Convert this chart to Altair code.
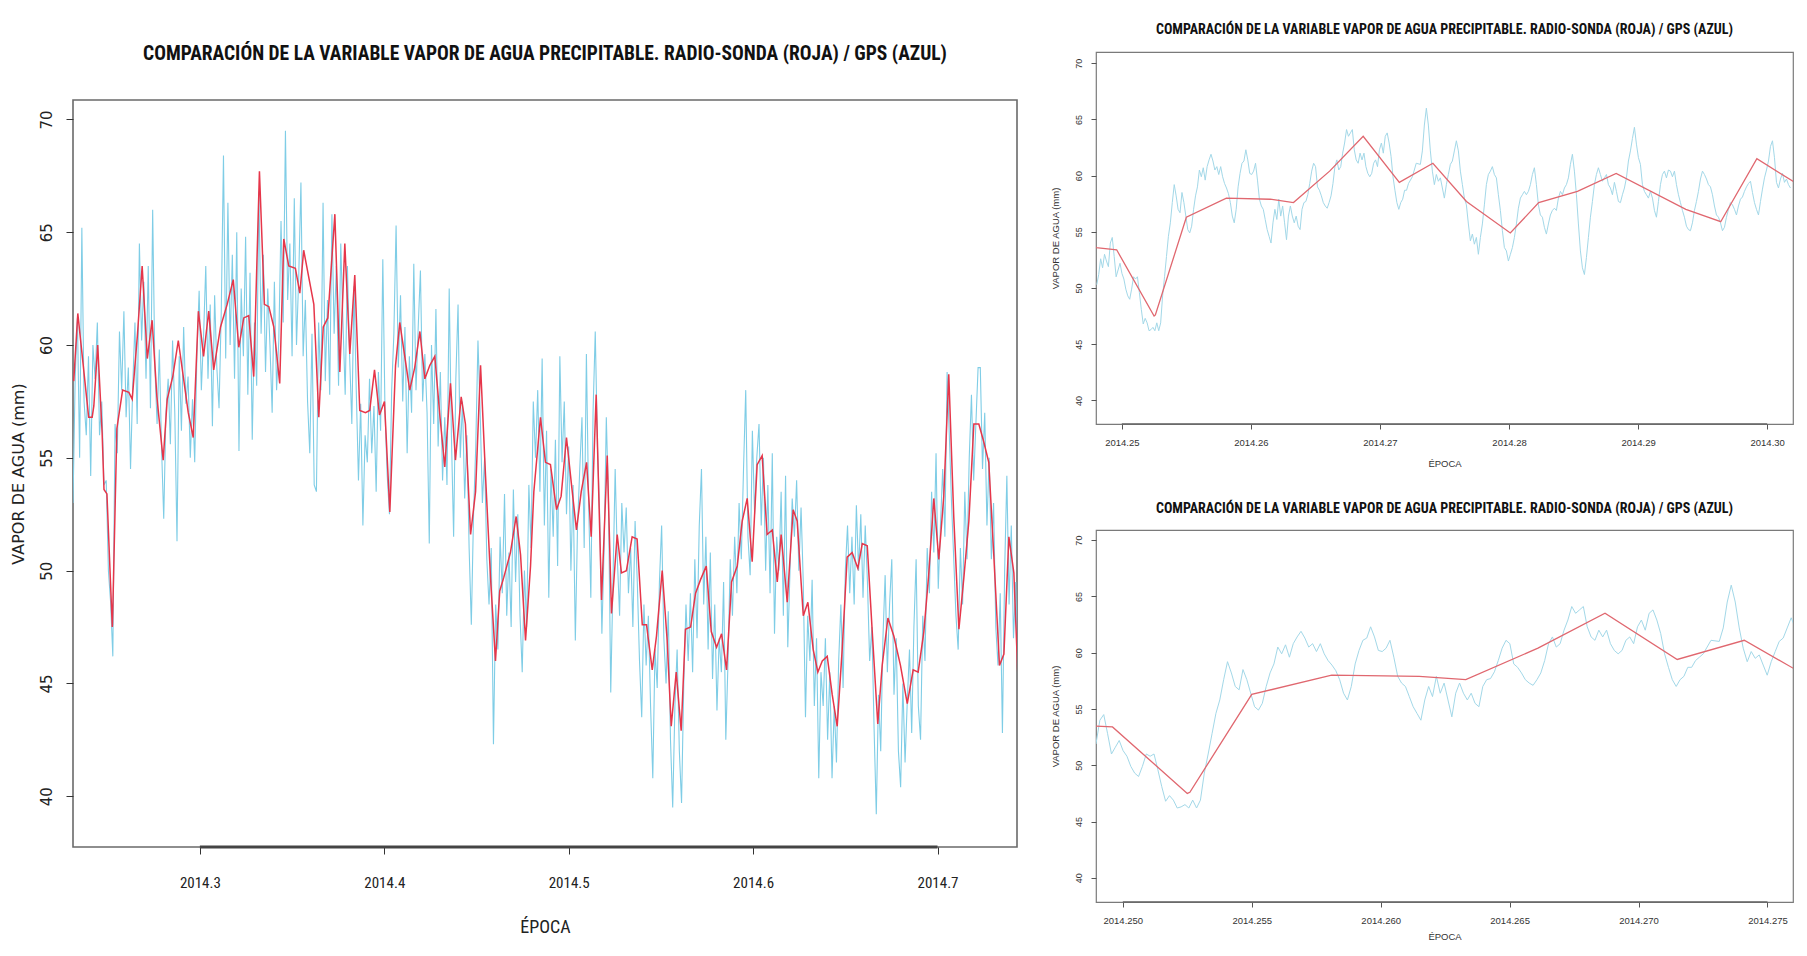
import altair as alt
import pandas as pd

TITLE = "COMPARACIÓN DE LA VARIABLE VAPOR DE AGUA PRECIPITABLE. RADIO-SONDA (ROJA) / GPS (AZUL)"
X_TITLE = "ÉPOCA"
Y_TITLE = "VAPOR DE AGUA (mm)"

# Radio-sonda (red) : epoch (decimal year) and precipitable water vapour (mm)
RS_EPOCH = [
    2014.2316, 2014.2338, 2014.2397, 2014.2416, 2014.2425, 2014.2446, 2014.2470, 2014.2480,
    2014.2496, 2014.2525, 2014.2526, 2014.2550, 2014.2581, 2014.2615, 2014.2633, 2014.2661,
    2014.2687, 2014.2715, 2014.2741, 2014.2767, 2014.2801, 2014.2823, 2014.2853, 2014.2883,
    2014.2937, 2014.2964, 2014.2992, 2014.3020, 2014.3048, 2014.3075, 2014.3112, 2014.3148,
    2014.3181, 2014.3211, 2014.3238, 2014.3265, 2014.3292, 2014.3323, 2014.3350, 2014.3374,
    2014.3401, 2014.3433, 2014.3455, 2014.3482, 2014.3518, 2014.3542, 2014.3563, 2014.3618,
    2014.3645, 2014.3669, 2014.3694, 2014.3732, 2014.3759, 2014.3786, 2014.3813, 2014.3840,
    2014.3867, 2014.3898, 2014.3921, 2014.3947, 2014.3974, 2014.4001, 2014.4030, 2014.4061,
    2014.4084, 2014.4111, 2014.4138, 2014.4165, 2014.4193, 2014.4220, 2014.4247, 2014.4274,
    2014.4301, 2014.4328, 2014.4359, 2014.4386, 2014.4417, 2014.4440, 2014.4468, 2014.4495,
    2014.4522, 2014.4549, 2014.4576, 2014.4603, 2014.4626, 2014.4648, 2014.4684, 2014.4715,
    2014.4739, 2014.4766, 2014.4793, 2014.4811, 2014.4847, 2014.4874, 2014.4901, 2014.4934,
    2014.4959, 2014.4988, 2014.5014, 2014.5042, 2014.5068, 2014.5097, 2014.5122, 2014.5149,
    2014.5178, 2014.5209, 2014.5232, 2014.5263, 2014.5286, 2014.5313, 2014.5344, 2014.5371,
    2014.5399, 2014.5422, 2014.5453, 2014.5476, 2014.5507, 2014.5534, 2014.5556, 2014.5583,
    2014.5610, 2014.5633, 2014.5661, 2014.5688, 2014.5715, 2014.5746, 2014.5773, 2014.5802,
    2014.5829, 2014.5856, 2014.5883, 2014.5914, 2014.5941, 2014.5968, 2014.5995, 2014.6022,
    2014.6049, 2014.6076, 2014.6104, 2014.6131, 2014.6152, 2014.6185, 2014.6217, 2014.6239,
    2014.6272, 2014.6297, 2014.6326, 2014.6351, 2014.6375, 2014.6402, 2014.6429, 2014.6456,
    2014.6483, 2014.6510, 2014.6537, 2014.6568, 2014.6592, 2014.6619, 2014.6646, 2014.6676,
    2014.6700, 2014.6731, 2014.6763, 2014.6799, 2014.6836, 2014.6868, 2014.6895, 2014.6926,
    2014.6953, 2014.6980, 2014.7007, 2014.7034, 2014.7061, 2014.7088, 2014.7116, 2014.7143,
    2014.7170, 2014.7197, 2014.7224, 2014.7251, 2014.7278, 2014.7305, 2014.7336, 2014.7360,
    2014.7387, 2014.7414, 2014.7435,
]
RS_VALUE = [
    58.4, 61.4, 56.8, 56.8, 57.3, 60.0, 56.1, 53.6,
    53.4, 47.5, 47.6, 56.3, 58.0, 57.9, 57.6, 60.4,
    63.5, 59.4, 61.1, 57.7, 54.9, 57.6, 58.6, 60.2,
    57.0, 55.9, 61.5, 59.5, 61.5, 58.9, 60.8, 61.8,
    62.9, 59.9, 61.2, 61.3, 58.6, 67.7, 61.8, 61.7,
    60.8, 58.3, 64.7, 63.5, 63.4, 62.3, 64.2, 61.8,
    56.8, 60.8, 61.2, 65.8, 58.8, 64.5, 59.6, 63.1,
    57.1, 57.0, 57.1, 58.9, 56.9, 57.5, 52.6, 59.1,
    61.0, 59.5, 58.0, 59.0, 60.6, 58.5, 59.1, 59.5,
    56.9, 54.6, 58.3, 54.9, 57.7, 56.5, 51.6, 53.5,
    59.1, 54.2, 49.7, 46.0, 49.1, 49.7, 50.8, 52.4,
    50.7, 46.9, 50.2, 53.5, 56.8, 54.8, 54.7, 52.7,
    53.3, 55.9, 53.9, 51.8, 53.5, 54.8, 51.5, 57.8,
    48.7, 55.1, 48.1, 51.6, 49.9, 50.0, 51.5, 51.4,
    47.6, 47.6, 45.6, 47.1, 50.0, 46.9, 43.1, 45.5,
    42.9, 47.4, 47.5, 49.0, 49.6, 50.2, 47.3, 46.6,
    47.2, 45.6, 49.5, 50.2, 52.2, 53.2, 50.4, 54.7,
    55.1, 51.6, 51.8, 49.5, 51.6, 48.6, 52.7, 52.2,
    48.0, 48.6, 46.5, 45.5, 46.0, 46.2, 44.5, 43.1,
    46.5, 50.6, 50.8, 50.1, 51.2, 51.1, 47.3, 43.2,
    45.8, 47.9, 47.1, 45.8, 44.1, 45.6, 45.5, 47.3,
    49.9, 53.2, 50.5, 53.3, 58.7, 52.4, 47.4, 49.7,
    52.2, 56.5, 56.5, 55.7, 54.8, 50.7, 45.8, 46.3,
    51.5, 49.9, 45.5,
]

# GPS (blue), whole period, regular sampling
GPS_FULL_START = 2014.2312
GPS_FULL_STEP = 0.0012
GPS_FULL = [
    53.0, 58.6, 61.2, 55.0, 65.2, 57.5, 56.0, 59.5, 54.2, 60.0,
    58.5, 61.0, 56.0, 57.5, 53.8, 54.0, 50.0, 48.6, 46.2, 56.5,
    55.2, 60.6, 58.0, 61.5, 56.8, 59.0, 54.5, 58.2, 61.0, 56.5,
    64.5, 60.2, 62.8, 58.5, 63.5, 57.2, 66.0, 59.0, 56.5, 59.8,
    55.5, 52.3, 57.0, 58.5, 55.6, 60.2, 57.0, 51.3, 59.5, 56.2,
    60.8, 57.4, 58.6, 55.0, 57.6, 54.8, 59.6, 62.4, 58.0, 60.4,
    63.5, 58.5, 61.8, 56.4, 62.2, 59.0, 57.2, 61.5, 68.4, 59.4,
    66.3, 60.0, 64.0, 58.5, 65.0, 55.3, 62.5, 59.5, 64.8, 57.8,
    63.2, 55.8, 61.0, 58.2, 66.8, 60.5, 64.0, 58.8, 62.5, 60.0,
    57.0, 62.8, 58.0, 60.2, 65.5, 61.0, 69.5, 62.0, 64.5, 59.5,
    66.5, 60.0, 63.0, 67.2, 59.5, 62.0, 57.5, 55.2, 60.5, 53.8,
    53.5, 61.0, 58.0, 66.3, 58.4, 62.0, 57.8, 65.8, 60.5, 63.5,
    58.2, 64.5, 61.0, 57.8, 63.5, 59.5, 56.5, 62.6, 58.0, 54.0,
    57.4, 52.0, 56.0, 54.8, 58.5, 55.2, 57.3, 53.5, 58.8, 56.2,
    63.8, 57.0, 54.2, 52.5, 58.0, 60.5, 65.3, 59.0, 62.2, 57.5,
    60.8, 55.2, 59.5, 57.0, 63.6, 58.0, 60.8, 63.3, 57.5, 59.6,
    57.0, 51.2, 60.0, 56.5, 61.6, 55.5, 58.8, 54.0, 56.8, 53.8,
    62.5, 56.0, 51.5, 58.5, 61.8, 55.0, 57.5, 53.2, 56.0, 51.0,
    47.6, 52.5, 55.5, 60.2, 57.0, 53.0, 55.0, 50.5, 48.5, 51.0,
    42.3, 48.5, 46.5, 51.5, 49.0, 53.4, 48.0, 50.8, 47.5, 53.6,
    49.5, 52.5, 48.0, 45.5, 50.0, 47.5, 53.8, 51.0, 57.5, 55.0,
    58.0, 53.5, 59.4, 52.0, 56.2, 48.8, 54.5, 51.5, 55.8, 50.2,
    59.5, 54.8, 57.5, 52.5, 55.5, 50.0, 53.8, 46.9, 52.0, 54.5,
    56.8, 51.0, 59.6, 53.0, 48.8, 57.0, 60.6, 55.5, 52.5, 47.2,
    51.0, 56.8, 53.0, 44.6, 49.5, 54.5, 50.5, 48.0, 53.0, 50.8,
    52.8, 49.0, 51.0, 47.5, 52.2, 49.5, 46.0, 43.5, 48.5, 45.8,
    48.0, 44.0, 40.8, 46.5, 44.8, 49.5, 52.0, 47.0, 45.0, 48.2,
    42.5, 39.5, 44.0, 46.5, 42.0, 39.7, 45.0, 48.5, 46.0, 49.0,
    45.5, 50.5, 47.0, 52.0, 54.5, 48.5, 51.5, 46.5, 50.8, 45.2,
    48.5, 43.8, 47.0, 45.5, 49.5, 42.5, 46.0, 50.5, 48.0, 51.5,
    49.0, 53.0, 50.5, 54.5, 58.0, 51.5, 49.8, 56.2, 52.5, 55.0,
    56.5, 52.0, 55.0, 50.0, 53.8, 49.0, 55.2, 47.2, 51.5, 50.0,
    53.5, 48.0, 54.2, 46.6, 50.0, 53.2, 51.5, 54.0, 50.0, 52.8,
    49.5, 43.5, 48.0, 46.0, 49.6, 44.0, 47.0, 40.8, 45.5, 44.0,
    47.0, 42.5, 45.5, 40.8, 44.0, 41.5, 46.0, 48.5, 44.8, 50.0,
    52.0, 49.0, 51.5, 48.5, 52.9, 50.0, 52.5, 48.8, 52.0, 49.5,
    46.0, 47.5, 43.0, 39.2, 44.5, 42.0, 47.0, 49.8, 45.5, 48.5,
    50.5, 44.5, 47.0, 42.0, 40.4, 45.0, 41.5, 44.2, 46.5, 42.8,
    47.5, 50.5, 44.0, 42.5, 48.0, 46.0, 51.0, 49.0, 53.5, 50.8,
    55.2, 49.2, 52.0, 54.5, 51.5, 58.8, 56.0, 53.0, 50.5, 48.0,
    46.5, 51.0, 48.5, 53.5, 50.5, 55.0, 57.8, 54.0, 56.5, 59.0,
    59.0, 54.5, 57.0, 52.0, 55.0, 50.5, 53.0, 47.5, 45.8, 49.0,
    42.8, 50.0, 54.2, 48.5, 52.0, 47.0, 49.5, 45.0,
]

# GPS (blue), detail of the first weeks (zoomed panels)
GPS_A_START = 2014.24806
GPS_A_STEP = 0.000150
GPS_A = [
    50.3, 51.2, 52.6, 51.8, 53.0, 52.4,
    51.9, 54.0, 54.5, 52.8, 51.0, 51.6, 52.2, 51.3, 50.8, 49.9,
    49.3, 49.0, 49.9, 51.0, 50.8, 51.0, 49.6, 48.1, 46.8, 47.3,
    46.9, 46.2, 46.3, 46.5, 46.2, 46.9, 46.2, 46.9, 49.3, 51.0,
    52.8, 54.6, 55.8, 57.6, 59.2, 58.2, 57.0, 56.7, 58.5, 57.6,
    56.4, 55.2, 54.9, 55.5, 57.0, 58.2, 59.0, 60.5, 59.9, 60.7,
    59.6, 60.8, 61.4, 61.9, 61.3, 60.5, 60.8, 60.1, 60.8, 59.9,
    59.3, 58.9, 58.4, 57.6, 56.4, 55.8, 57.0, 59.0, 60.2, 61.1,
    61.3, 62.3, 61.4, 60.2, 60.1, 60.4, 61.1, 59.6, 57.9, 57.3,
    57.0, 56.1,
    55.2, 54.6, 54.0, 55.8, 57.0, 56.1, 57.9, 56.4, 57.3, 55.8,
    54.3, 56.4, 57.3, 56.4, 55.8, 56.4, 55.5, 55.2, 57.0, 57.6,
    57.7, 58.3, 59.3, 60.4, 61.1, 60.8, 59.0, 58.7, 58.2, 57.6,
    57.3, 57.1, 57.6, 58.2, 59.3, 60.8, 61.4, 60.5, 60.8, 62.0,
    62.9, 64.1, 63.5, 63.8, 64.1, 62.3, 61.4, 61.1, 62.0, 61.4,
    62.0, 60.8, 60.2, 59.9, 60.2, 61.1, 61.4, 60.8, 62.3, 62.9,
    62.0, 63.5, 63.8, 62.9, 61.7, 59.9, 58.7, 57.6, 57.0, 57.6,
    57.9, 58.7, 58.7, 59.3, 59.6, 59.9, 60.5, 61.1,
]
GPS_B_START = 2014.27313
GPS_B_STEP = 0.000155
GPS_B = [
    61.0, 62.2, 64.5, 66.0, 64.5, 62.2, 60.4, 59.2, 60.1, 59.5,
    59.8, 58.9, 58.0, 59.2, 60.1, 61.0, 61.3, 62.2, 63.1, 62.2,
    60.4, 59.2, 58.0, 57.4, 55.7, 54.2, 54.8, 53.9, 54.5, 53.0,
    54.5, 55.7, 57.4, 59.2, 60.1, 60.4, 60.8, 60.1, 59.8, 58.3,
    56.9, 55.1, 53.6, 53.3, 52.4, 53.0, 53.6, 54.5, 55.7, 57.1,
    58.0, 58.3, 58.6, 58.3, 58.6, 59.2, 60.1, 60.7, 59.2, 57.4,
    56.5, 56.3, 55.4, 54.8, 55.7, 56.5, 56.9, 57.1, 56.9, 58.0,
    58.6, 58.3, 58.9, 59.2, 59.8, 61.0, 61.9, 60.4, 58.3, 55.7,
    53.3, 51.8, 51.2, 52.7, 54.5, 56.3, 57.7, 59.2, 60.1, 60.7,
    60.1, 59.5, 59.8, 60.1, 59.2, 58.9, 58.3,
    59.4, 58.6, 57.7, 57.6, 58.3, 58.9, 59.8, 61.3, 62.2, 63.3,
    64.3, 62.8, 61.6, 61.0, 59.2, 58.6, 58.3, 58.0, 58.6, 58.0,
    56.9, 56.3, 57.7, 59.2, 60.1, 60.4, 59.8, 60.5, 60.4, 59.9,
    60.4, 59.2, 58.3, 57.6, 56.9, 56.3, 55.5, 55.2, 55.1, 55.8,
    56.9, 57.7, 58.6, 59.7, 60.4, 60.1, 59.7, 59.2, 59.0, 58.3,
    57.3, 56.5, 56.3, 55.8, 55.1, 55.4, 56.3, 57.0, 57.6, 57.4,
    57.0, 56.5, 57.3, 57.9, 58.1, 58.6, 59.0, 59.3, 59.5, 58.5,
    57.6, 57.0, 56.5, 57.7, 58.8, 59.8, 60.5, 61.3, 62.6, 63.1,
    61.6, 59.4, 58.9, 59.7, 60.2, 59.4, 59.7, 59.2, 58.9,
]

LEFT_TICKS = [2014.3, 2014.4, 2014.5, 2014.6, 2014.7]
TOP_TICKS = [2014.25, 2014.26, 2014.27, 2014.28, 2014.29, 2014.30]
BOTTOM_TICKS = [2014.250, 2014.255, 2014.260, 2014.265, 2014.270, 2014.275]
Y_TICKS = [40, 45, 50, 55, 60, 65, 70]


def regular(start, step, values):
    return pd.DataFrame({"epoch": [start + i * step for i in range(len(values))], "pwv": values})


rs = pd.DataFrame({"epoch": RS_EPOCH, "pwv": RS_VALUE})
gps_full = regular(GPS_FULL_START, GPS_FULL_STEP, GPS_FULL)
gps_fine = pd.concat([regular(GPS_A_START, GPS_A_STEP, GPS_A),
                      regular(GPS_B_START, GPS_B_STEP, GPS_B)], ignore_index=True)

NARROW = ("Noto Sans ExtraCondensed, Noto Sans Condensed, Roboto Condensed, "
          "Liberation Sans Narrow, Roboto, sans-serif")
WIDE = "DejaVu Sans, Verdana, sans-serif"
SANS = "Liberation Sans, Arial, sans-serif"

LEFT_W, LEFT_H = 944, 747
RIGHT_W, RIGHT_H = 697, 372


def panel(blue, red, xdom, ydom, xticks, fmt, w, h, big, x_label_pad, x_title_pad, title_offset):
    if big:
        xaxis = alt.Axis(values=xticks, format=fmt, title=X_TITLE, domain=False, grid=False,
                         tickSize=7, tickColor="#333", tickWidth=1,
                         labelFont=NARROW, labelFontSize=15, labelColor="#222",
                         labelPadding=x_label_pad,
                         titleFont=NARROW, titleFontSize=18, titleFontWeight="normal",
                         titleColor="#222", titlePadding=x_title_pad)
        yaxis = alt.Axis(values=Y_TICKS, title=Y_TITLE, domain=False, grid=False,
                         tickSize=7, tickColor="#333", tickWidth=1,
                         labelFont=WIDE, labelFontSize=15, labelColor="#222", labelAngle=270,
                         labelAlign="center", labelBaseline="bottom", labelPadding=12,
                         titleFont=WIDE, titleFontSize=16, titleFontWeight="normal",
                         titleColor="#222", titlePadding=13)
        blue_col, blue_w, red_col, red_w = "#7fcde6", 1.1, "#e6364a", 1.5
        frame = alt.ViewBackground(stroke="#6a6a6a", strokeWidth=1.6)
        axis_w, axis_c = 3, "#444"
    else:
        xaxis = alt.Axis(values=xticks, format=fmt, title=X_TITLE, domain=False, grid=False,
                         tickSize=5, tickColor="#555", tickWidth=1,
                         labelFont=SANS, labelFontSize=9.5, labelColor="#333",
                         labelPadding=x_label_pad,
                         titleFont=SANS, titleFontSize=9.5, titleFontWeight="normal",
                         titleColor="#333", titlePadding=x_title_pad)
        yaxis = alt.Axis(values=Y_TICKS, title=Y_TITLE, domain=False, grid=False,
                         tickSize=5, tickColor="#555", tickWidth=1,
                         labelFont=SANS, labelFontSize=9, labelColor="#333", labelAngle=270,
                         labelAlign="center", labelBaseline="bottom", labelPadding=8,
                         titleFont=SANS, titleFontSize=9.5, titleFontWeight="normal",
                         titleColor="#333", titlePadding=14)
        blue_col, blue_w, red_col, red_w = "#a3d8e8", 1.0, "#e0676f", 1.3
        frame = alt.ViewBackground(stroke="#7a7a7a", strokeWidth=1.2)
        axis_w, axis_c = 1.5, "#666"

    xs = alt.Scale(domain=xdom, nice=False, zero=False)
    ys = alt.Scale(domain=ydom, nice=False, zero=False)
    lo, hi = xdom
    b = blue[(blue.epoch >= lo - 0.002) & (blue.epoch <= hi + 0.002)]
    r = red[(red.epoch >= lo - 0.004) & (red.epoch <= hi + 0.004)]

    blue_line = alt.Chart(b).mark_line(color=blue_col, strokeWidth=blue_w, clip=True).encode(
        x=alt.X("epoch:Q", scale=xs, axis=xaxis),
        y=alt.Y("pwv:Q", scale=ys, axis=yaxis),
    )
    red_line = alt.Chart(r).mark_line(color=red_col, strokeWidth=red_w, clip=True).encode(
        x=alt.X("epoch:Q", scale=xs, axis=xaxis),
        y=alt.Y("pwv:Q", scale=ys, axis=yaxis),
    )
    axis_line = alt.Chart(pd.DataFrame({"a": [xticks[0]], "b": [xticks[-1]]})).mark_rule(
        color=axis_c, strokeWidth=axis_w).encode(
        x=alt.X("a:Q", scale=xs, axis=xaxis), x2="b:Q", y=alt.value(h))
    props = dict(width=w, height=h, view=frame)
    if title_offset is not None:
        props["title"] = alt.TitleParams(TITLE, font=NARROW, fontSize=14, fontWeight="bold",
                                         color="#111", offset=title_offset, anchor="middle")
    return alt.layer(blue_line, red_line, axis_line).properties(**props)


left = panel(gps_full, rs, [2014.2312, 2014.7431], [37.75, 70.86], LEFT_TICKS, ".1f",
             LEFT_W, LEFT_H, True, 21, 28, None)
top_right = panel(gps_fine, rs, [2014.2480, 2014.3020], [37.9, 71.0], TOP_TICKS, ".2f",
                  RIGHT_W, RIGHT_H, False, 8, 12, 15)
bottom_right = panel(gps_fine, rs, [2014.24896, 2014.27599], [37.85, 70.9], BOTTOM_TICKS, ".3f",
                     RIGHT_W, RIGHT_H, False, 8, 7, 14)

# band above the big panel that carries its title
head = alt.Chart(pd.DataFrame({"t": [TITLE]})).mark_text(
    font=NARROW, fontSize=19.5, fontWeight="bold", color="#111",
    align="center", baseline="middle"
).encode(
    text="t:N", x=alt.value(LEFT_W / 2), y=alt.value(2)
).properties(width=LEFT_W, height=46, view=alt.ViewBackground(stroke="transparent"))

left_col = alt.vconcat(head, left, spacing=0)
right_col = alt.vconcat(top_right, bottom_right, spacing=32)

chart = alt.hconcat(left_col, right_col, spacing=31).properties(
    padding={"left": 1, "top": 14, "right": 0, "bottom": 0},
    background="white",
)

chart.save("out.html", embed_options={"renderer": "svg", "actions": False})
